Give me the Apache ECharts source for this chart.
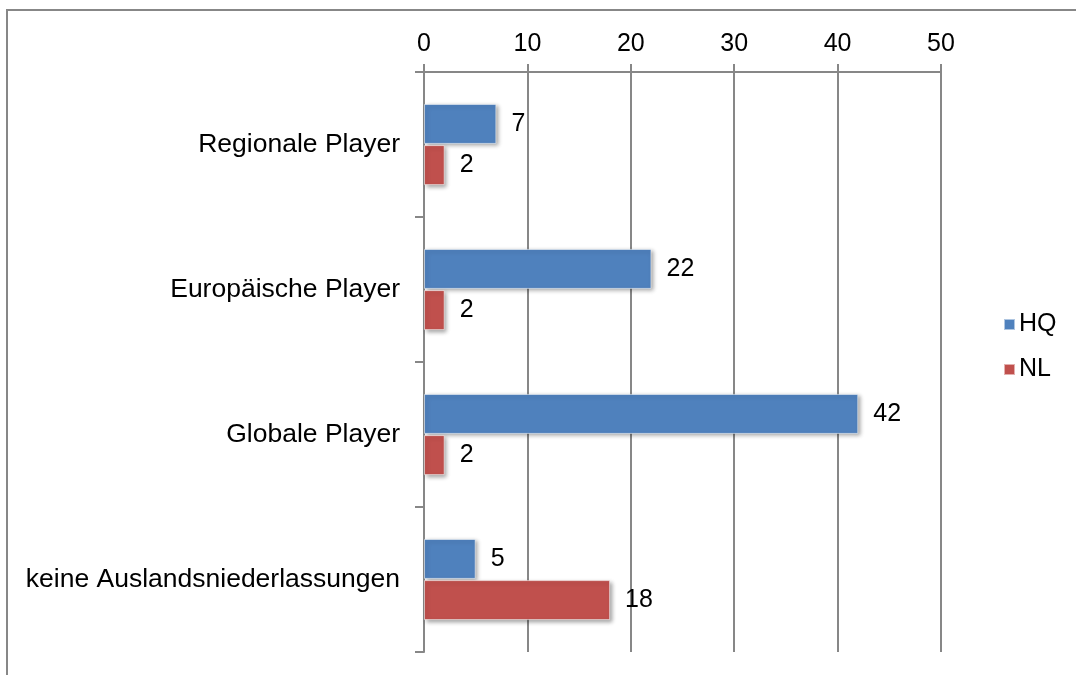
<!DOCTYPE html>
<html>
<head>
<meta charset="utf-8">
<script src="https://cdn.jsdelivr.net/npm/echarts@6/dist/echarts.min.js"></script>
<style>
html, body { margin: 0; padding: 0; background: #fff; }
#chart { width: 1076px; height: 675px; }
</style>
</head>
<body>
<div id="chart"></div>
<script>
// Player types and counts for headquarters (HQ) and branches (NL)
const categories = ['Regionale Player', 'Europäische Player', 'Globale Player', 'keine Auslandsniederlassungen'];
const hqValues = [7, 22, 42, 5];
const nlValues = [2, 2, 2, 18];
const seriesNames = ['HQ', 'NL'];
const colors = ['#4F81BD', '#C0504D'];

const FONT = 'Liberation Sans, Arial, sans-serif';
const chart = echarts.init(document.getElementById('chart'), null, { renderer: 'canvas' });

function barSeries(name, data, color) {
  return {
    name: name,
    type: 'bar',
    data: data,
    barWidth: 40,
    barGap: '3%',
    itemStyle: {
      color: color,
      borderColor: 'rgba(255,255,255,0.55)',
      borderWidth: 1,
      shadowColor: 'rgba(0,0,0,0.35)',
      shadowBlur: 4,
      shadowOffsetX: 2,
      shadowOffsetY: 2
    },
    label: {
      show: true,
      position: 'right',
      distance: 15,
      color: '#000',
      fontSize: 25,
      fontFamily: FONT
    }
  };
}

chart.setOption({
  animation: false,
  backgroundColor: '#fff',
  color: colors,
  graphic: [{
    type: 'rect',
    shape: { x: 7, y: 10, width: 1200, height: 800 },
    style: { fill: 'none', stroke: '#878787', lineWidth: 2 },
    silent: true
  }],
  grid: { left: 424, right: 135, top: 72, bottom: 23, containLabel: false },
  legend: {
    orient: 'vertical',
    left: 998,
    top: 307,
    itemWidth: 11,
    itemHeight: 11,
    itemGap: 20,
    icon: 'rect',
    textStyle: { fontSize: 25, fontFamily: FONT, color: '#000', padding: [0, 0, 0, -1] },
    data: seriesNames
  },
  xAxis: {
    type: 'value',
    position: 'top',
    min: 0,
    max: 50,
    interval: 10,
    axisLine: { show: true, lineStyle: { color: '#878787', width: 2 } },
    axisTick: { show: true, inside: false, length: 8, lineStyle: { color: '#878787', width: 2 } },
    axisLabel: { fontSize: 25, fontFamily: FONT, color: '#000', margin: 15 },
    splitLine: { show: true, lineStyle: { color: '#878787', width: 2 } }
  },
  yAxis: {
    type: 'category',
    inverse: true,
    data: categories,
    axisLine: { show: true, onZero: false, lineStyle: { color: '#878787', width: 2 } },
    axisTick: { show: true, length: 9, lineStyle: { color: '#878787', width: 2 } },
    axisLabel: { fontSize: 26.5, fontFamily: FONT, color: '#000', margin: 24 }
  },
  series: [
    barSeries(seriesNames[0], hqValues, colors[0]),
    barSeries(seriesNames[1], nlValues, colors[1])
  ]
});
</script>
</body>
</html>
